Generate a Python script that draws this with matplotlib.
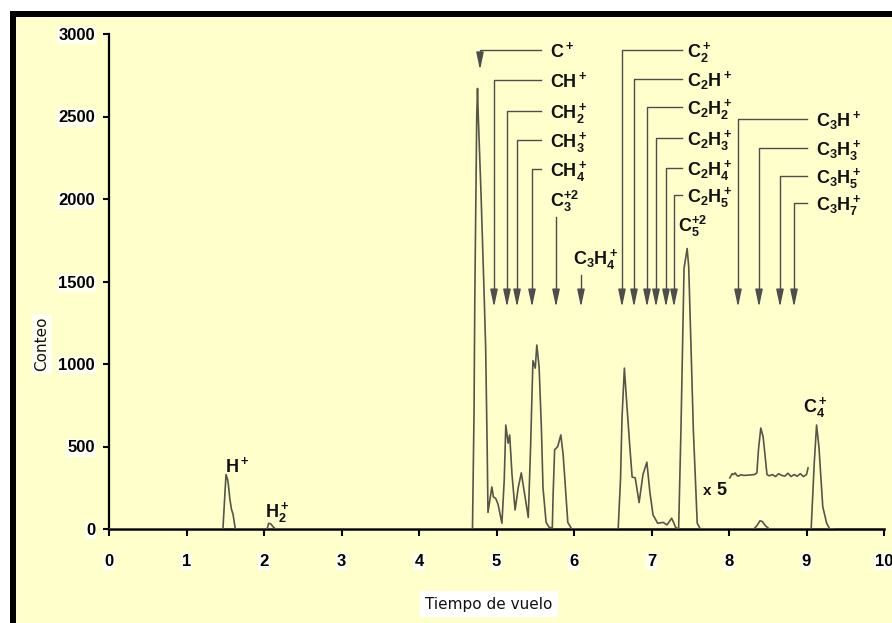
import matplotlib
matplotlib.use("Agg")
import matplotlib.pyplot as plt
from matplotlib.patches import Rectangle

plt.rcParams['font.family'] = ['Liberation Sans', 'DejaVu Sans']
plt.rcParams['mathtext.fontset'] = 'custom'
plt.rcParams['mathtext.rm'] = 'Liberation Sans:bold'
plt.rcParams['mathtext.it'] = 'Liberation Sans:bold'
plt.rcParams['mathtext.bf'] = 'Liberation Sans:bold'

# ---- time-of-flight spectrum (time in µs, counts) ----
tof = [0.00, 1.45, 1.47, 1.50, 1.51, 1.53, 1.54, 1.56, 1.58, 1.60, 1.63,
       2.04, 2.06, 2.09, 2.12, 2.15,
       4.69, 4.71, 4.72, 4.745, 4.755, 4.765, 4.80, 4.84, 4.86, 4.88, 4.89,
       4.94, 4.96, 4.99, 5.02, 5.07, 5.10, 5.12, 5.15, 5.17, 5.20, 5.24,
       5.28, 5.32, 5.36, 5.41, 5.44, 5.47, 5.50, 5.52, 5.55, 5.58, 5.60,
       5.64, 5.68, 5.72, 5.73, 5.75, 5.79, 5.83, 5.86, 5.88, 5.92, 5.97,
       6.57, 6.60, 6.62, 6.65, 6.68, 6.72, 6.75, 6.79, 6.84, 6.89, 6.91,
       6.94, 6.98, 7.02, 7.08, 7.15, 7.20, 7.26, 7.29, 7.31, 7.35,
       7.38, 7.42, 7.46, 7.48, 7.51, 7.54, 7.59, 7.63,
       8.32, 8.36, 8.40, 8.43, 8.47, 8.52,
       9.06, 9.10, 9.13, 9.16, 9.21, 9.26, 9.30, 9.35]
counts = [0, 0, 0, 250, 330, 300, 270, 180, 120, 90, 0,
          0, 35, 30, 12, 0,
          0, 700, 1390, 2500, 2670, 2500, 2036, 1430, 1100, 480, 100,
          255, 195, 185, 150, 35, 300, 630, 520, 570, 330, 115,
          250, 340, 220, 70, 500, 1020, 975, 1115, 980, 600, 250,
          40, 10, 5, 200, 480, 500, 570, 450, 315, 40, 0,
          0, 300, 680, 975, 765, 500, 315, 310, 160, 330, 360,
          405, 220, 85, 35, 40, 25, 65, 35, 10, 0,
          600, 1580, 1700, 1590, 1100, 600, 35, 0,
          0, 20, 50, 45, 20, 0,
          0, 400, 630, 500, 135, 35, 0, 0]

# magnified (x5) view of the 8-9 µs window, drawn with its own offset
zoom_tof = [8.01, 8.04, 8.06, 8.08, 8.10, 8.12, 8.15, 8.20, 8.26, 8.33,
            8.36, 8.38, 8.41, 8.44, 8.46, 8.49, 8.52, 8.56, 8.60, 8.64,
            8.68, 8.72, 8.76, 8.80, 8.84, 8.88, 8.92, 8.96, 9.00, 9.02]
zoom_counts = [310, 335, 330, 340, 325, 320, 328, 325, 327, 330,
               340, 480, 612, 560, 470, 330, 322, 330, 318, 335,
               325, 320, 338, 318, 330, 320, 335, 318, 330, 370]

x_ticks = [0, 1, 2, 3, 4, 5, 6, 7, 8, 9, 10]
y_ticks = [0, 500, 1000, 1500, 2000, 2500, 3000]

# ion assignments: label, label x, line y, arrow x, arrow tip y
ions_left = [
    (r'$\mathrm{C^+}$',     5.69, 2903, 4.787, 2782),
    (r'$\mathrm{CH^+}$',    5.69, 2721, 4.968, 1345),
    (r'$\mathrm{CH_2^+}$',  5.69, 2533, 5.135, 1345),
    (r'$\mathrm{CH_3^+}$',  5.69, 2358, 5.265, 1345),
    (r'$\mathrm{CH_4^+}$',  5.69, 2182, 5.458, 1345),
]
ions_mid = [
    (r'$\mathrm{C_2^+}$',      7.458, 2903, 6.619, 1345),
    (r'$\mathrm{C_2H^+}$',     7.458, 2727, 6.774, 1345),
    (r'$\mathrm{C_2H_2^+}$',   7.458, 2558, 6.942, 1345),
    (r'$\mathrm{C_2H_3^+}$',   7.458, 2370, 7.058, 1345),
    (r'$\mathrm{C_2H_4^+}$',   7.458, 2188, 7.187, 1345),
    (r'$\mathrm{C_2H_5^+}$',   7.458, 2024, 7.290, 1345),
]
ions_right = [
    (r'$\mathrm{C_3H^+}$',   9.123, 2485, 8.116, 1345),
    (r'$\mathrm{C_3H_3^+}$', 9.123, 2309, 8.387, 1345),
    (r'$\mathrm{C_3H_5^+}$', 9.123, 2139, 8.658, 1345),
    (r'$\mathrm{C_3H_7^+}$', 9.123, 1976, 8.839, 1345),
]
line_end = {'left': 5.574, 'mid': 7.394, 'right': 9.006}

BG = '#FFFFCC'
TRACE = '#55554a'
LEAD = '#4d4d4d'
HEAD = dict(arrowstyle='-|>,head_length=0.75,head_width=0.16',
            mutation_scale=14, color=LEAD, lw=1.0, shrinkA=0, shrinkB=0)

fig = plt.figure(figsize=(8.92, 6.23), dpi=100, facecolor=BG)

# frame: white margin and black border along top and left edges
W, H = 892.0, 623.0
fig.patches.append(Rectangle((0, 1 - 11 / H), 1, 11 / H, transform=fig.transFigure,
                             fc='white', ec='none', zorder=0))
fig.patches.append(Rectangle((0, 0), 10 / W, 1, transform=fig.transFigure,
                             fc='white', ec='none', zorder=0))
fig.patches.append(Rectangle((10 / W, 1 - 17 / H), 1, 6 / H, transform=fig.transFigure,
                             fc='black', ec='none', zorder=1))
fig.patches.append(Rectangle((10 / W, 0), 6 / W, 1 - 11 / H, transform=fig.transFigure,
                             fc='black', ec='none', zorder=1))

ax = fig.add_axes([109 / W, 1 - 529 / H, 775 / W, 495 / H])
ax.set_facecolor(BG)
ax.patch.set_alpha(0)

ax.plot(tof, counts, color=TRACE, lw=1.2, zorder=3)
ax.plot(zoom_tof, zoom_counts, color=TRACE, lw=1.2, zorder=3)

ax.set_xlim(0, 10)
ax.set_ylim(0, 3000)
ax.set_xticks(x_ticks)
ax.set_yticks(y_ticks)
ax.set_xticklabels([str(v) for v in x_ticks], fontsize=12, fontweight='bold')
ax.set_yticklabels([str(v) for v in y_ticks], fontsize=12, fontweight='bold')
for s in ['top', 'right']:
    ax.spines[s].set_visible(False)
ax.spines['left'].set_linewidth(1.6)
ax.spines['bottom'].set_linewidth(1.8)
ax.tick_params(axis='y', direction='out', length=4, width=1.5, pad=6)
ax.tick_params(axis='x', direction='out', length=5, width=1.5, pad=13)
for t in ax.get_xticklabels() + ax.get_yticklabels():
    t.set_bbox(dict(fc='#FFFFF4', ec='none', pad=1.0))


def draw_group(ions, xend):
    for lab, lx, ly, ax_x, tip in ions:
        ax.plot([xend, ax_x, ax_x], [ly, ly, tip + 60], color=LEAD, lw=1.0,
                zorder=2, clip_on=False)
        ax.annotate('', xy=(ax_x, tip), xytext=(ax_x, tip + 90),
                    arrowprops=HEAD, annotation_clip=False, zorder=2)
        ax.text(lx, ly - 40, lab, fontsize=13, ha='left', va='baseline',
                color='#111111', zorder=4, clip_on=False)


draw_group(ions_left, line_end['left'])
draw_group(ions_mid, line_end['mid'])
draw_group(ions_right, line_end['right'])

# vertical-only markers
for lab, lx, ly, ax_x, top in [(r'$\mathrm{C_3^{+2}}$', 5.69, 1994, 5.768, 1891),
                               (r'$\mathrm{C_3H_4^+}$', 5.987, 1648, 6.090, 1539)]:
    ax.plot([ax_x, ax_x], [top, 1345 + 60], color=LEAD, lw=1.0, zorder=2)
    ax.annotate('', xy=(ax_x, 1345), xytext=(ax_x, 1345 + 90),
                arrowprops=HEAD, zorder=2)
    ax.text(lx, ly - 40, lab, fontsize=13, ha='left', va='baseline',
            color='#111111', zorder=4)

ax.text(7.342, 1842 - 40, r'$\mathrm{C_5^{+2}}$', fontsize=13, ha='left',
        va='baseline', color='#111111', zorder=4)
ax.text(1.497, 345, r'$\mathrm{H^+}$', fontsize=13, ha='left', va='baseline',
        color='#111111', zorder=4)
ax.text(2.01, 73, r'$\mathrm{H_2^+}$', fontsize=13, ha='left', va='baseline',
        color='#111111', zorder=4)
ax.text(8.955, 709, r'$\mathrm{C_4^+}$', fontsize=13, ha='left', va='baseline',
        color='#111111', zorder=4)
ax.text(7.66, 206, 'x', fontsize=11, fontweight='bold', ha='left',
        va='baseline', color='#111111', zorder=4)
ax.text(7.84, 206, '5', fontsize=13, fontweight='bold', ha='left',
        va='baseline', color='#111111', zorder=4)

fig.text(42 / W, 1 - 344 / H, 'Conteo', rotation=90, ha='center', va='center',
         fontsize=11, family=['DejaVu Sans'], color='#111111',
         bbox=dict(fc='#FFFFF4', ec='none', pad=2))
fig.text(489 / W, 1 - 604 / H, 'Tiempo de vuelo', ha='center', va='center',
         fontsize=11, family=['DejaVu Sans'], color='#111111',
         bbox=dict(fc='white', ec='none', pad=4))

fig.savefig('out.png', dpi=100, facecolor=BG)
